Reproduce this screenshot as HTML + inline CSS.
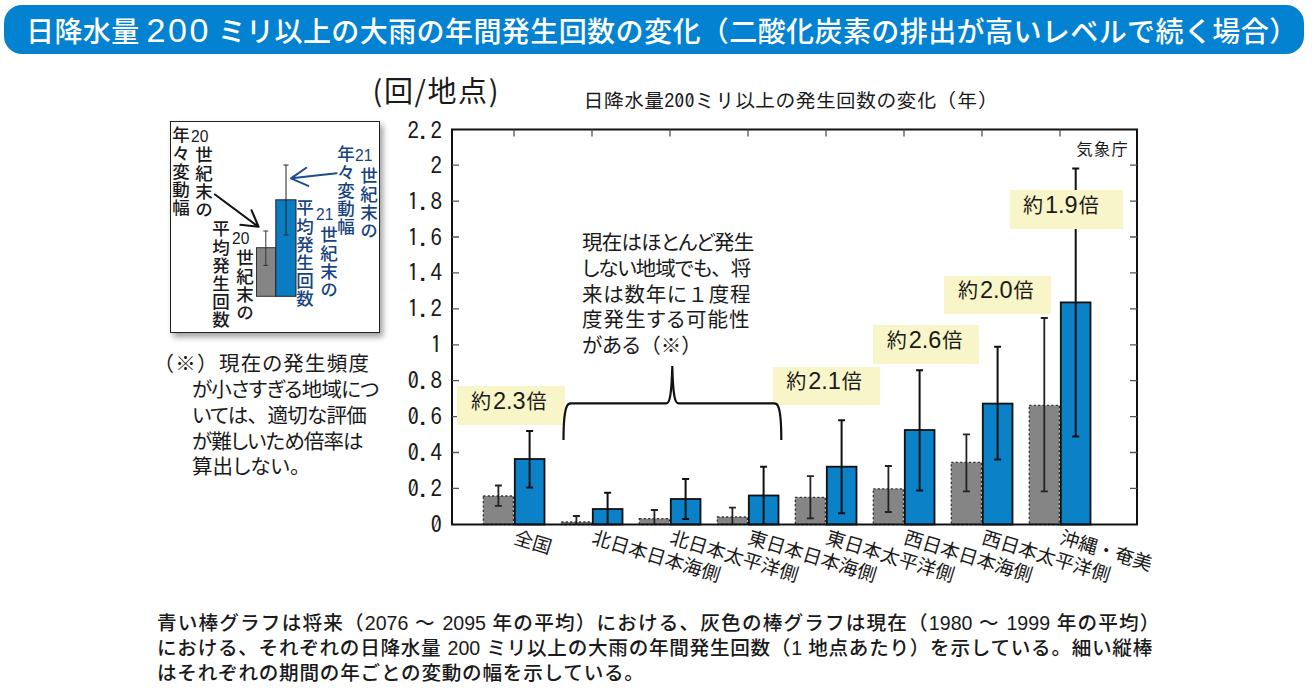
<!DOCTYPE html>
<html lang="ja">
<head>
<meta charset="utf-8">
<style>
html,body{margin:0;padding:0;background:#fff;}
body{width:1312px;height:692px;position:relative;overflow:hidden;font-family:"Liberation Sans","Noto Sans CJK JP",sans-serif;color:#1a1a1a;}
.a{position:absolute;white-space:nowrap;line-height:1;}
#banner{position:absolute;left:4px;top:5px;width:1300px;height:49px;border-radius:18px;background:#0282d0;}
#btxt{left:26px;top:12.5px;font-size:28px;color:#fff;font-weight:500;font-family:"Noto Sans CJK JP",sans-serif;letter-spacing:0.42px;}
#btxt .num{font-family:"Liberation Sans",sans-serif;font-size:34px;letter-spacing:2.6px;font-weight:400;}
#unit{left:372.5px;top:75px;font-size:29px;letter-spacing:1.6px;font-family:"Noto Sans CJK JP",sans-serif;}
.ipa{font-family:"IPAGothic",monospace;}
#ctitle{left:583.5px;top:90px;font-size:20.2px;}
.yl{position:absolute;right:870px;font-size:23px;line-height:1;font-family:"IPAGothic",monospace;text-align:right;}
.ybox{position:absolute;background:#f8f6c8;}
.yt{position:absolute;font-size:20px;line-height:1;font-family:"Noto Sans CJK JP",sans-serif;white-space:nowrap;}
.yt .d{font-family:"Liberation Sans",sans-serif;font-size:23.5px;margin:0 1px 0 2px;}
.xl{position:absolute;font-size:19px;line-height:1;font-family:"Noto Sans CJK JP",sans-serif;white-space:nowrap;transform-origin:0 0;transform:rotate(17deg);}
#inset{position:absolute;left:170px;top:121px;width:208px;height:209.5px;border:1.5px solid #222;box-shadow:3px 4px 6px rgba(0,0,0,0.38);background:#fff;}
.vt{position:absolute;writing-mode:vertical-rl;font-weight:500;font-size:17.5px;letter-spacing:0.7px;line-height:1;font-family:"Noto Sans CJK JP",sans-serif;white-space:nowrap;}
.hn{position:absolute;font-size:15.6px;line-height:1;font-family:"Liberation Sans",sans-serif;white-space:nowrap;}
.tcy{text-combine-upright:all;}
.blue{color:#17437f;}
.note{position:absolute;font-size:19.5px;line-height:25.8px;font-family:"Noto Sans CJK JP",sans-serif;white-space:nowrap;}
.n2{font-size:20.5px;font-feature-settings:"palt";}
.nf{font-feature-settings:normal;}
.ln{letter-spacing:0;}
.cap{position:absolute;left:157px;font-weight:500;font-size:19.6px;letter-spacing:0.6px;line-height:25.3px;font-family:"Liberation Sans","Noto Sans CJK JP",sans-serif;white-space:nowrap;}
</style>
</head>
<body>
<div id="banner"></div>
<div class="a" id="btxt">日降水量 <span class="num">200</span> ミリ以上の大雨の年間発生回数の変化（二酸化炭素の排出が高いレベルで続く場合）</div>

<div class="a" id="unit">(回/地点)</div>
<div class="a ipa" id="ctitle">日降水量200ミリ以上の発生回数の変化（年）</div>

<div id="inset"></div>

<svg id="chart" width="1312" height="692" style="position:absolute;left:0;top:0;">
<rect x="483.3" y="496.0" width="30.1" height="28.5" fill="#858585" stroke="#333" stroke-width="1.3" stroke-dasharray="2.2 2.2"/>
<rect x="514.8" y="459.0" width="29.7" height="65.5" fill="#0b81c8" stroke="#111" stroke-width="1.8"/>
<rect x="561.3" y="522.0" width="30.1" height="2.5" fill="#858585" stroke="#333" stroke-width="1.3" stroke-dasharray="2.2 2.2"/>
<rect x="592.8" y="509.0" width="29.7" height="15.5" fill="#0b81c8" stroke="#111" stroke-width="1.8"/>
<rect x="639.3" y="518.7" width="30.1" height="5.8" fill="#858585" stroke="#333" stroke-width="1.3" stroke-dasharray="2.2 2.2"/>
<rect x="670.8" y="499.0" width="29.7" height="25.5" fill="#0b81c8" stroke="#111" stroke-width="1.8"/>
<rect x="717.3" y="517.0" width="30.1" height="7.5" fill="#858585" stroke="#333" stroke-width="1.3" stroke-dasharray="2.2 2.2"/>
<rect x="748.8" y="495.5" width="29.7" height="29.0" fill="#0b81c8" stroke="#111" stroke-width="1.8"/>
<rect x="795.3" y="497.3" width="30.1" height="27.2" fill="#858585" stroke="#333" stroke-width="1.3" stroke-dasharray="2.2 2.2"/>
<rect x="826.8" y="466.7" width="29.7" height="57.8" fill="#0b81c8" stroke="#111" stroke-width="1.8"/>
<rect x="873.3" y="488.8" width="30.1" height="35.7" fill="#858585" stroke="#333" stroke-width="1.3" stroke-dasharray="2.2 2.2"/>
<rect x="904.8" y="430.0" width="29.7" height="94.5" fill="#0b81c8" stroke="#111" stroke-width="1.8"/>
<rect x="951.3" y="462.4" width="30.1" height="62.1" fill="#858585" stroke="#333" stroke-width="1.3" stroke-dasharray="2.2 2.2"/>
<rect x="982.8" y="403.6" width="29.7" height="120.9" fill="#0b81c8" stroke="#111" stroke-width="1.8"/>
<rect x="1029.3" y="405.4" width="30.1" height="119.1" fill="#858585" stroke="#333" stroke-width="1.3" stroke-dasharray="2.2 2.2"/>
<rect x="1060.8" y="302.4" width="29.7" height="222.1" fill="#0b81c8" stroke="#111" stroke-width="1.8"/>
<path d="M498.4 485.5V505.9M494.9 485.5h7M494.9 505.9h7" stroke="#222" stroke-width="1.8" fill="none"/>
<path d="M529.6 431.0V487.4M526.1 431.0h7M526.1 487.4h7" stroke="#111" stroke-width="2" fill="none"/>
<path d="M576.4 516.0V524.0M572.9 516.0h7" stroke="#222" stroke-width="1.8" fill="none"/>
<path d="M607.6 492.8V524.0M604.1 492.8h7" stroke="#111" stroke-width="2" fill="none"/>
<path d="M654.4 510.0V524.0M650.9 510.0h7" stroke="#222" stroke-width="1.8" fill="none"/>
<path d="M685.6 479.0V519.0M682.1 479.0h7M682.1 519.0h7" stroke="#111" stroke-width="2" fill="none"/>
<path d="M732.4 507.7V524.0M728.9 507.7h7" stroke="#222" stroke-width="1.8" fill="none"/>
<path d="M763.6 466.7V524.0M760.1 466.7h7" stroke="#111" stroke-width="2" fill="none"/>
<path d="M810.4 476.1V518.4M806.9 476.1h7M806.9 518.4h7" stroke="#222" stroke-width="1.8" fill="none"/>
<path d="M841.6 420.3V513.3M838.1 420.3h7M838.1 513.3h7" stroke="#111" stroke-width="2" fill="none"/>
<path d="M888.4 466.0V512.0M884.9 466.0h7M884.9 512.0h7" stroke="#222" stroke-width="1.8" fill="none"/>
<path d="M919.6 370.3V490.6M916.1 370.3h7M916.1 490.6h7" stroke="#111" stroke-width="2" fill="none"/>
<path d="M966.4 434.3V491.3M962.9 434.3h7M962.9 491.3h7" stroke="#222" stroke-width="1.8" fill="none"/>
<path d="M997.6 346.8V459.5M994.1 346.8h7M994.1 459.5h7" stroke="#111" stroke-width="2" fill="none"/>
<path d="M1044.3 318.0V491.3M1040.8 318.0h7M1040.8 491.3h7" stroke="#222" stroke-width="1.8" fill="none"/>
<path d="M1075.7 168.5V436.4M1072.2 168.5h7M1072.2 436.4h7" stroke="#111" stroke-width="2" fill="none"/>
<rect x="452" y="129.5" width="685" height="395.0" fill="none" stroke="#111" stroke-width="2"/>
<path d="M452 488.4h7M1137 488.4h-7M452 452.5h7M1137 452.5h-7M452 416.6h7M1137 416.6h-7M452 380.7h7M1137 380.7h-7M452 344.8h7M1137 344.8h-7M452 308.8h7M1137 308.8h-7M452 272.9h7M1137 272.9h-7M452 237.0h7M1137 237.0h-7M452 201.1h7M1137 201.1h-7M452 165.2h7M1137 165.2h-7M514.0 129.5v7M592.0 129.5v7M670.0 129.5v7M748.0 129.5v7M826.0 129.5v7M904.0 129.5v7M982.0 129.5v7M1060.0 129.5v7" stroke="#555" stroke-width="1.3" fill="none"/>
<rect x="256.5" y="247.7" width="19.3" height="48.6" fill="#858585" stroke="#333" stroke-width="1"/>
<rect x="275.8" y="199.8" width="20.2" height="96.5" fill="#0a7cc2" stroke="#222" stroke-width="1"/>
<path d="M265.8 231V265.4M263.3 231h5M263.3 265.4h5" stroke="#333" stroke-width="1" fill="none"/>
<path d="M286 165V235M283.5 165h5M283.5 235h5" stroke="#222" stroke-width="1" fill="none"/>
<path d="M336.6 173.2L291.5 178.3M306.3 167.7L291 178.4L308.3 185.9" stroke="#1d4e8c" stroke-width="2" fill="none" stroke-linecap="round" stroke-linejoin="round"/>
<path d="M215 194.5L258 226.5M251.6 210.3L258.6 226.8L240.4 224.8" stroke="#111" stroke-width="2.1" fill="none" stroke-linecap="round" stroke-linejoin="round"/>
</svg>

<div class="ybox" style="left:457.4px;top:386.0px;width:108px;height:39.3px"></div>
<div class="yt" style="left:470.9px;top:389.5px">約<span class="d">2.3</span>倍</div>
<div class="ybox" style="left:772.7px;top:366.8px;width:107px;height:38.5px"></div>
<div class="yt" style="left:786.2px;top:370.3px">約<span class="d">2.1</span>倍</div>
<div class="ybox" style="left:873.2px;top:325.4px;width:106px;height:38.6px"></div>
<div class="yt" style="left:886.7px;top:328.9px">約<span class="d">2.6</span>倍</div>
<div class="ybox" style="left:944.4px;top:275.7px;width:106.3px;height:38.6px"></div>
<div class="yt" style="left:957.9px;top:279.2px">約<span class="d">2.0</span>倍</div>
<div class="ybox" style="left:1009.5px;top:190.2px;width:113px;height:39px"></div>
<div class="yt" style="left:1023.0px;top:193.7px">約<span class="d">1.9</span>倍</div>
<svg width="1312" height="692" style="position:absolute;left:0;top:0;"><path d="M563.5 440 C563.5 425 565 410 567 406 Q568 403.3 571 403.3 H666.5 C669.5 403.3 671.5 396 672.3 366 C673 396 675 403.3 678.3 403.3 H774 Q777 403.3 778 406 C780 410 781.3 425 781.3 440" stroke="#111" stroke-width="2.2" fill="none"/></svg>
<div class="yl" style="top:512.8px">0</div>
<div class="yl" style="top:476.9px">0.2</div>
<div class="yl" style="top:441.0px">0.4</div>
<div class="yl" style="top:405.1px">0.6</div>
<div class="yl" style="top:369.2px">0.8</div>
<div class="yl" style="top:333.2px">1</div>
<div class="yl" style="top:297.3px">1.2</div>
<div class="yl" style="top:261.4px">1.4</div>
<div class="yl" style="top:225.5px">1.6</div>
<div class="yl" style="top:189.6px">1.8</div>
<div class="yl" style="top:153.7px">2</div>
<div class="yl" style="top:118.5px">2.2</div>
<div class="xl" style="left:518.0px;top:525.5px">全国</div>
<div class="xl" style="left:596.0px;top:525.5px">北日本日本海側</div>
<div class="xl" style="left:674.0px;top:525.5px">北日本太平洋側</div>
<div class="xl" style="left:752.0px;top:525.5px">東日本日本海側</div>
<div class="xl" style="left:830.0px;top:525.5px">東日本太平洋側</div>
<div class="xl" style="left:908.0px;top:525.5px">西日本日本海側</div>
<div class="xl" style="left:986.0px;top:525.5px">西日本太平洋側</div>
<div class="xl" style="left:1064.0px;top:525.5px">沖縄・奄美</div>

<div class="a" style="left:1076.5px;top:139.5px;font-size:16.2px;letter-spacing:1.3px;font-family:'Noto Sans CJK JP',sans-serif;">気象庁</div>

<div class="note n2" style="left:582px;top:229px;"><span style="letter-spacing:-0.8px">現在はほとんど発生</span><br><span style="letter-spacing:-1px">しない地域でも<span class="nf">、</span>将</span><br><span style="letter-spacing:0.75px">来は数年に<span class="nf">１</span>度程</span><br><span style="letter-spacing:1.1px">度発生する可能性</span><br>がある<span class="nf">（※）</span></div>

<div class="note n2" style="left:163px;top:350px;letter-spacing:2px;">（※）</div>
<div class="note n2" style="left:219px;top:350px;letter-spacing:1.2px;">現在の発生頻度</div>
<div class="note n2" style="left:192px;top:376px;"><span style="letter-spacing:-0.75px">が小さすぎる地域につ</span><br><span style="letter-spacing:-0.7px">いては<span class="nf">、</span>適切な評価</span><br><span style="letter-spacing:-0.9px">が難しいため倍率は</span><br>算出しない。</div>

<div class="cap" style="top:610.5px;letter-spacing:1.18px;">青い棒グラフは将来（<span class="ln">2076</span> ～ <span class="ln">2095</span> 年の平均）における、灰色の棒グラフは現在（<span class="ln">1980</span> ～ <span class="ln">1999</span> 年の平均）</div>
<div class="cap" style="top:635.8px;letter-spacing:0.72px;">における、それぞれの日降水量 <span class="ln">200</span> ミリ以上の大雨の年間発生回数（<span class="ln">1</span> 地点あたり）を示している。細い縦棒</div>
<div class="cap" style="top:661.1px;letter-spacing:0.76px;">はそれぞれの期間の年ごとの変動の幅を示している。</div>

<!-- inset text -->
<div class="vt" style="left:172px;top:125.5px;">年々変動幅</div>
<div class="hn" style="left:191px;top:128.7px;">20</div>
<div class="vt" style="left:195px;top:146px;">世紀末の</div>
<div class="vt" style="left:212px;top:220px;">平均発生回数</div>
<div class="hn" style="left:232px;top:231.2px;">20</div>
<div class="vt" style="left:236px;top:248.5px;">世紀末の</div>
<div class="vt blue" style="left:296px;top:198.5px;">平均発生回数</div>
<div class="hn blue" style="left:316px;top:207.2px;">21</div>
<div class="vt blue" style="left:320px;top:225.5px;">世紀末の</div>
<div class="vt blue" style="left:337px;top:144.5px;">年々変動幅</div>
<div class="hn blue" style="left:355px;top:148.2px;">21</div>
<div class="vt blue" style="left:360px;top:167px;">世紀末の</div>

</body>
</html>
